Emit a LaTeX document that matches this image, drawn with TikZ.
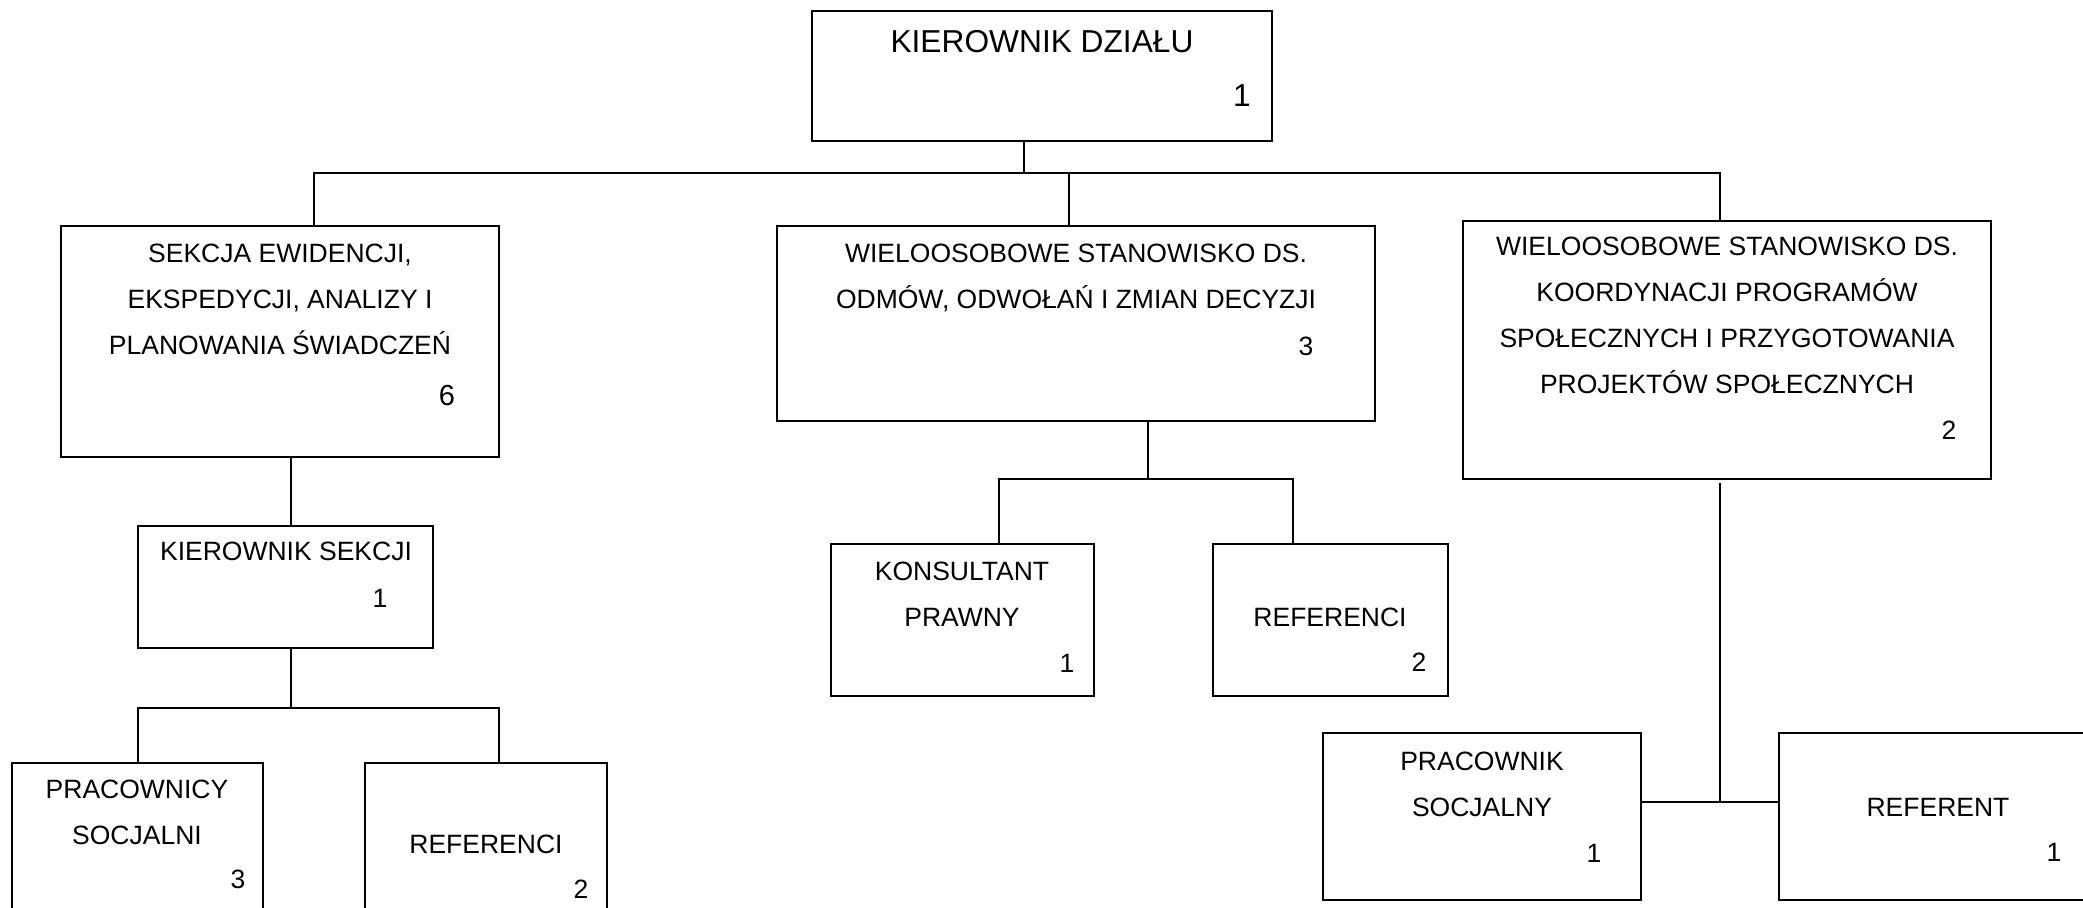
\documentclass[tikz,border=0pt]{standalone}
\usepackage{fontspec}
\setmainfont{Liberation Sans}
\usepackage{tikz}

\tikzset{
  box/.style={draw, line width=0.7pt, inner sep=0pt},
  txt/.style={inner sep=0pt, anchor=base, align=center, font=\fontsize{13.25pt}{23pt}\selectfont},
  ttl/.style={txt, font=\fontsize{15.85pt}{23pt}\selectfont},
  conn/.style={line width=0.9pt}
}

\begin{document}
\begin{tikzpicture}[x=0.5pt,y=0.5pt,yscale=-1,xscale=1]
\useasboundingbox (0,0) rectangle (2083,907);
\clip (0,0) rectangle (2083,907);

%Shape: Rectangle
\node (kier) [box, minimum width=230pt, minimum height=65pt] at (1042,76) {};
%Shape: Rectangle
\node (sek) [box, minimum width=219pt, minimum height=115.5pt] at (280,341.5) {};
%Shape: Rectangle
\node (kiersek) [box, minimum width=147.5pt, minimum height=61pt] at (285.5,587) {};
%Shape: Rectangle
\node (prac) [box, minimum width=125.5pt, minimum height=81pt] at (137.5,844) {};
%Shape: Rectangle
\node (refl) [box, minimum width=121pt, minimum height=81pt] at (486,844) {};
%Shape: Rectangle
\node (mid) [box, minimum width=299pt, minimum height=97.5pt] at (1076,323.5) {};
%Shape: Rectangle
\node (konsul) [box, minimum width=131.5pt, minimum height=76pt] at (962.5,620) {};
%Shape: Rectangle
\node (refm) [box, minimum width=117.5pt, minimum height=76pt] at (1330.5,620) {};
%Shape: Rectangle
\node (kor) [box, minimum width=264pt, minimum height=129pt] at (1727,350) {};
%Shape: Rectangle
\node (pracsoc) [box, minimum width=159pt, minimum height=83.5pt] at (1482,816.5) {};
%Shape: Rectangle
\node (referent) [box, minimum width=170.5pt, minimum height=83.5pt] at (1949.5,816.5) {};

%Junctions
\coordinate (j0) at (1024,173);
\coordinate (jL) at (314,173);
\coordinate (jM) at (1069,173);
\coordinate (jR) at (1720,173);
\coordinate (js) at (291,708);
\coordinate (jsL) at (138,708);
\coordinate (jsR) at (499,708);
\coordinate (jm) at (1148,479);
\coordinate (jmL) at (999,479);
\coordinate (jmR) at (1293,479);
\coordinate (kgap) at (1720,483);
\coordinate (jk) at (1720,802);

%Straight Lines
\draw [conn] (kier.south -| j0) -- (j0);
%Straight Lines
\draw [conn] (sek.north -| jL) -- (jL) -- (jR) -- (kor.north -| jR);
%Straight Lines
\draw [conn] (jM) -- (mid.north -| jM);
%Straight Lines
\draw [conn] (sek.south -| js) -- (kiersek.north -| js);
%Straight Lines
\draw [conn] (kiersek.south -| js) -- (js);
%Straight Lines
\draw [conn] (prac.north -| jsL) -- (jsL) -- (jsR) -- (refl.north -| jsR);
%Straight Lines
\draw [conn] (mid.south -| jm) -- (jm);
%Straight Lines
\draw [conn] (konsul.north -| jmL) -- (jmL) -- (jmR) -- (refm.north -| jmR);
%Straight Lines
\draw [conn] (kgap) -- (jk);
%Straight Lines
\draw [conn] (pracsoc.east |- jk) -- (referent.west |- jk);

% Text Node (multi-line nodes sit on the baseline of their last line)
\node (kier-t) [ttl] at (1042,52) {KIEROWNIK DZIAŁU};
% Text Node
\node (kier-n) [ttl] at (1242,106) {1};
% Text Node
\node (sek-t) [txt] at (280,354) {SEKCJA EWIDENCJI,\\EKSPEDYCJI, ANALIZY I\\PLANOWANIA ŚWIADCZEŃ};
% Text Node
\node (sek-n) [txt, font=\fontsize{14.5pt}{23pt}\selectfont] at (447,405) {6};
% Text Node
\node (kiersek-t) [txt] at (286,560) {KIEROWNIK SEKCJI};
% Text Node
\node (kiersek-n) [txt] at (380,607) {1};
% Text Node
\node (prac-t) [txt] at (137,844) {PRACOWNICY\\SOCJALNI};
% Text Node
\node (prac-n) [txt] at (238,888) {3};
% Text Node
\node (refl-t) [txt] at (486,853) {REFERENCI};
% Text Node
\node (refl-n) [txt] at (581,898) {2};
% Text Node
\node (mid-t) [txt] at (1076,308) {WIELOOSOBOWE STANOWISKO DS.\\ODMÓW, ODWOŁAŃ I ZMIAN DECYZJI};
% Text Node
\node (mid-n) [txt] at (1306,355) {3};
% Text Node
\node (konsul-t) [txt] at (962,626) {KONSULTANT\\PRAWNY};
% Text Node
\node (konsul-n) [txt] at (1067,672) {1};
% Text Node
\node (refm-t) [txt] at (1330,626) {REFERENCI};
% Text Node
\node (refm-n) [txt] at (1419,671) {2};
% Text Node
\node (kor-t) [txt] at (1727,393) {WIELOOSOBOWE STANOWISKO DS.\\KOORDYNACJI PROGRAMÓW\\SPOŁECZNYCH I PRZYGOTOWANIA\\PROJEKTÓW SPOŁECZNYCH};
% Text Node
\node (kor-n) [txt] at (1949,439) {2};
% Text Node
\node (pracsoc-t) [txt] at (1482,816) {PRACOWNIK\\SOCJALNY};
% Text Node
\node (pracsoc-n) [txt] at (1594,862) {1};
% Text Node
\node (referent-t) [txt] at (1938,816) {REFERENT};
% Text Node
\node (referent-n) [txt] at (2054,861) {1};

\end{tikzpicture}
\end{document}
